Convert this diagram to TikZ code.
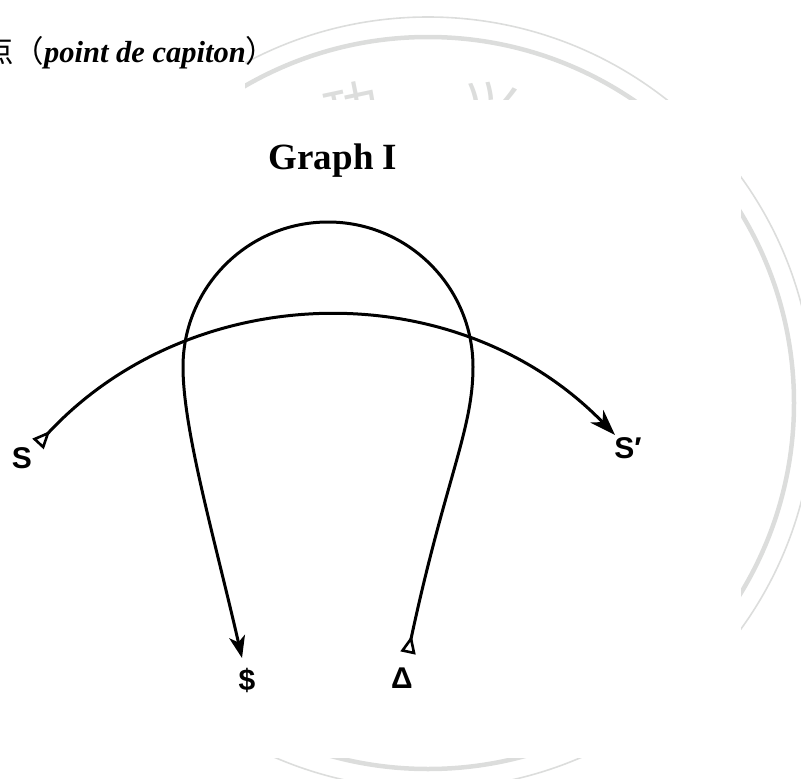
\documentclass[tikz,border=0pt]{standalone}
\usepackage{fontspec}
\setmainfont{Liberation Serif}
\newfontfamily\cjkfont{Noto Sans CJK SC}
\newfontfamily\labfont{Liberation Sans}
\usetikzlibrary{arrows.meta}
\definecolor{wm}{HTML}{DCDDDC}
\tikzset{
  tailtri/.tip={Triangle[open,reversed,length=18pt,width=15pt,line width=2.6pt]},
  headbig/.tip={Stealth[length=26pt,width=18pt,inset=8pt]},
  headsmall/.tip={Stealth[length=22pt,width=16pt,inset=6pt]}
}
\begin{document}
\begin{tikzpicture}[x=1pt,y=-1pt,
  line/.style={line width=3pt, line join=round},
  lab/.style={font=\labfont\bfseries\fontsize{30}{30}\selectfont, inner sep=0pt},
  wmchar/.style={wm, inner sep=0pt, font=\cjkfont\fontsize{56}{56}\selectfont}
]
\useasboundingbox (0,0) rectangle (801,779);
% faint watermark of the scan
\draw[wm, line width=4.5pt] (428,403) circle[radius=366];
\draw[wm, line width=1.6pt] (428,403) circle[radius=386];
\node[wmchar, rotate=12] (wmA) at (352,108) {功};
\node[wmchar, rotate=-10] (wmB) at (490,108) {兴};
\fill[white] (0,100) rectangle (741,758);
\fill[white] (0,0) rectangle (245,100);
% heading
\node[anchor=base west, inner sep=0pt, font=\fontsize{30.5}{30.5}\selectfont] (head) at (-17,62)
  {{\cjkfont 点（}{\bfseries\itshape point de capiton}{\cjkfont ）}};
\node[font=\bfseries\fontsize{37}{37}\selectfont, anchor=base, inner sep=0pt] (title) at (333,169) {Graph I};
% labels
\node[lab] (S) at (22,458) {S};
\node[lab] (Sp) at (628,448) {S′};
\node[lab] (Sbar) at (247,680) {\$};
\node[lab] (Delta) at (402,678) {Δ};
% connector end points
\coordinate (sStart) at (38,444);
\coordinate (sEnd) at (615,435);
\coordinate (dStart) at (408,653);
\coordinate (rTop) at (473,367);
\coordinate (cTop) at (328,222);
\coordinate (lTop) at (183,367);
\coordinate (dEnd) at (242,658);
% the signifying chain S -> S'
\draw[line, tailtri-headbig] (sStart) .. controls (192,278) and (457,272) .. (sEnd);
% the retroactive loop Delta -> $
\draw[line, tailtri-headsmall] (dStart) .. controls (445,480) and (473,430) .. (rTop)
  .. controls (473,287) and (408,222) .. (cTop)
  .. controls (248,222) and (183,287) .. (lTop)
  .. controls (183,430) and (215,540) .. (dEnd);
\end{tikzpicture}
\end{document}
